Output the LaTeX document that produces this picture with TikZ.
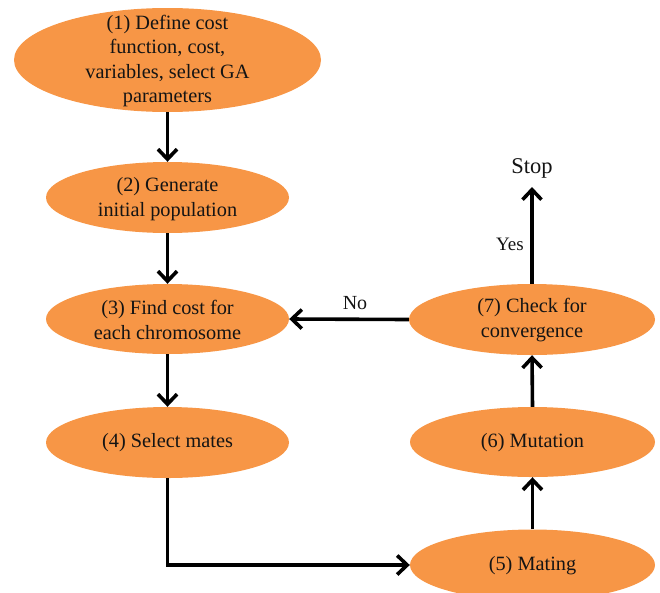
\documentclass[tikz,border=0pt]{standalone}
\usepackage{fontspec}
\setmainfont{Liberation Serif}
\usetikzlibrary{shapes.geometric,arrows.meta}
\definecolor{stepfill}{HTML}{F79646}
\definecolor{ink}{HTML}{141414}
\begin{document}
\begin{tikzpicture}[x=1pt,y=-1pt,
  blob/.style={ellipse, fill=stepfill, draw=none, inner sep=0pt},
  txt/.style={align=center, font=\fontsize{20.3}{24.5}\selectfont, text=ink, inner sep=0pt},
  lbl/.style={font=\fontsize{19}{22}\selectfont, text=ink, inner sep=0pt},
  flow/.style={line width=3.6pt, draw=black,
    -{Straight Barb[length=10pt,width=19pt,line width=3.6pt]}},
  ]
\useasboundingbox (0,0) rectangle (660,592);

% process steps (left column)
\node[blob, minimum width=307pt, minimum height=104pt] (n1) at (167.5,60) {};
\node[txt] (t1) at (167.5,61) {(1) Define cost\\function, cost,\\variables, select GA\\parameters};
\node[blob, minimum width=243pt, minimum height=71pt] (n2) at (167.5,197.5) {};
\node[txt] (t2) at (167.5,199) {(2) Generate\\initial population};
\node[blob, minimum width=243pt, minimum height=70pt] (n3) at (167.5,319) {};
\node[txt] (t3) at (167.5,320) {(3) Find cost for\\each chromosome};
\node[blob, minimum width=243pt, minimum height=71pt] (n4) at (167.5,442.5) {};
\node[txt] (t4) at (167.5,443) {(4) Select mates};

% process steps (right column)
\node[blob, minimum width=245pt, minimum height=71pt] (n5) at (532.5,565) {};
\node[txt] (t5) at (532.5,566) {(5) Mating};
\node[blob, minimum width=245pt, minimum height=70pt] (n6) at (532.5,442) {};
\node[txt] (t6) at (532.5,443) {(6) Mutation};
\node[blob, minimum width=246pt, minimum height=71pt] (n7) at (532,319.5) {};
\node[txt] (t7) at (532,320) {(7) Check for\\convergence};

\node[txt, font=\fontsize{22.5}{26}\selectfont] (stop) at (532,168) {Stop};

% connectors
\draw[flow] (n1.south) -- (n2.north);
\draw[flow] (n2.south) -- (n3.north);
\draw[flow] (n3.south) -- (n4.north);
\draw[flow] (n4.south) |- (n5.west);
\draw[flow] (n5.north) -- (n6.south);
\draw[flow] (n6.north) -- (n7.south);
\draw[flow, shorten >=9pt] (n7.north) -- (stop.south);
\draw[flow] (n7.west) -- (n3.east);

% branch labels
\node[lbl, anchor=east] (yes) at (524,244) {Yes};
\node[lbl, font=\fontsize{20}{24}\selectfont] (no) at (355,303) {No};
\end{tikzpicture}
\end{document}
